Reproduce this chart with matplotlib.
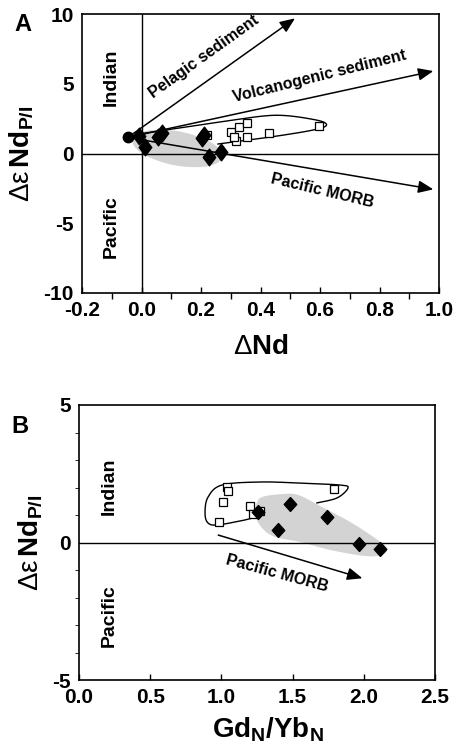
import numpy as np
import matplotlib
matplotlib.use("Agg")
import matplotlib.pyplot as plt
from matplotlib.path import Path

plt.rcParams['font.family'] = ['Liberation Sans', 'DejaVu Sans']
plt.rcParams['font.weight'] = 'normal'
plt.rcParams['mathtext.fontset'] = 'custom'
plt.rcParams['mathtext.rm'] = 'Liberation Sans'
plt.rcParams['mathtext.bf'] = 'Liberation Sans:bold'
plt.rcParams['mathtext.it'] = 'Liberation Sans:italic'

# ---------------- Panel A data ----------------
a_circle_x = [-0.046]
a_circle_y = [1.15]
a_diam_x = [-0.007, 0.012, 0.056, 0.068, 0.202, 0.210, 0.227, 0.266]
a_diam_y = [1.25, 0.49, 1.20, 1.45, 1.09, 1.33, -0.23, 0.09]
a_sq_x = [0.219, 0.300, 0.318, 0.329, 0.356, 0.356, 0.430, 0.598, 0.310]
a_sq_y = [1.33, 1.52, 0.92, 1.92, 2.16, 1.20, 1.49, 1.99, 1.20]
# arrow end points (start at the filled circle)
a_arrow_names = ['Pelagic sediment', 'Volcanogenic sediment', 'Pacific MORB']
a_arrow_end_x = [0.516, 0.981, 0.981]
a_arrow_end_y = [9.69, 5.91, -2.57]
# gray field of diamonds (outline vertices)
a_gray_x = [0.273, 0.221, 0.110, 0.006, -0.031, 0.021, 0.132, 0.236]
a_gray_y = [-0.26, -0.92, -0.84, -0.05, 0.97, 1.64, 1.56, 0.77]
# open envelope around squares
a_env_x = [-0.022, 0.129, 0.281, 0.449, 0.583, 0.622, 0.583, 0.449, 0.281, 0.257]
a_env_y = [1.36, 1.83, 2.31, 2.74, 2.42, 2.06, 1.71, 1.23, 0.75, 0.68]

# ---------------- Panel B data ----------------
b_sq_x = [1.037, 1.048, 1.009, 0.985, 1.200, 1.220, 1.270, 1.790]
b_sq_y = [2.03, 1.87, 1.48, 0.76, 1.33, 1.03, 1.16, 1.93]
b_diam_x = [1.259, 1.480, 1.395, 1.740, 1.966, 2.114]
b_diam_y = [1.12, 1.40, 0.45, 0.94, -0.05, -0.25]
b_arrow_start = (0.978, 0.27)
b_arrow_end = (1.99, -1.30)
b_gray_x = [1.243, 1.285, 1.426, 1.538, 1.692, 1.903, 2.079, 2.163, 2.128, 2.008,
            1.763, 1.552, 1.376, 1.285, 1.236]
b_gray_y = [1.36, 1.65, 1.76, 1.73, 1.33, 0.75, 0.16, -0.20, -0.45, -0.49,
            -0.27, 0.02, 0.20, 0.53, 1.00]
b_env_x = [1.257, 1.166, 0.976, 0.906, 0.885, 0.906, 1.004, 1.271, 1.552, 1.833,
           1.889, 1.812, 1.671]
b_env_y = [0.94, 0.82, 0.64, 0.71, 1.07, 1.65, 2.09, 2.20, 2.16, 2.09,
           1.98, 1.62, 1.44]

a_xticks = [-0.2, 0.0, 0.2, 0.4, 0.6, 0.8, 1.0]
a_yticks = [-10, -5, 0, 5, 10]
b_xticks = [0.0, 0.5, 1.0, 1.5, 2.0, 2.5]
b_yticks = [-5, 0, 5]

GRAY = '#d3d3d3'


def smooth(ax, xs, ys, closed, n=20):
    """Catmull-Rom spline computed in display space, returned in data space."""
    pts = ax.transData.transform(np.column_stack([xs, ys]))
    if closed:
        P = np.vstack([pts[-1], pts, pts[0], pts[1]])
        segs = len(pts)
    else:
        P = np.vstack([pts[0], pts, pts[-1]])
        segs = len(pts) - 1
    out = []
    t = np.linspace(0, 1, n, endpoint=False)[:, None]
    for i in range(segs):
        p0, p1, p2, p3 = P[i], P[i + 1], P[i + 2], P[i + 3]
        seg = 0.5 * ((2 * p1) + (-p0 + p2) * t + (2 * p0 - 5 * p1 + 4 * p2 - p3) * t ** 2
                     + (-p0 + 3 * p1 - 3 * p2 + p3) * t ** 3)
        out.append(seg)
    if not closed:
        out.append(pts[-1][None, :])
    out = np.vstack(out)
    return ax.transData.inverted().transform(out)


thin_diamond = Path([(0, 1), (0.75, 0), (0, -1), (-0.75, 0), (0, 1)],
                    [Path.MOVETO, Path.LINETO, Path.LINETO, Path.LINETO, Path.CLOSEPOLY])
diamond_b = Path([(0, 1), (0.9, 0), (0, -1), (-0.9, 0), (0, 1)],
                 [Path.MOVETO, Path.LINETO, Path.LINETO, Path.LINETO, Path.CLOSEPOLY])

fig = plt.figure(figsize=(4.55, 7.49), dpi=100)
axA = fig.add_axes([82 / 455, 1 - 293 / 749, 357 / 455, 279 / 749])
axB = fig.add_axes([79 / 455, 1 - 680 / 749, 356 / 455, 275 / 749])

arrowstyle = '-|>,head_length=0.65,head_width=0.27'
YLABEL = r'$\mathrm{\Delta\varepsilon}\,\mathbf{Nd}_{\mathbf{P/I}}$'
B = 'bold'

# ---------------- Panel A ----------------
axA.set_xlim(-0.2, 1.0)
axA.set_ylim(-10, 10)
axA.axhline(0, color='black', lw=1.0, zorder=1)
axA.axvline(0, color='black', lw=1.0, zorder=1)

g = smooth(axA, a_gray_x, a_gray_y, closed=True)
axA.fill(g[:, 0], g[:, 1], color=GRAY, lw=0, zorder=0.5)
e = smooth(axA, a_env_x, a_env_y, closed=False)
axA.plot(e[:, 0], e[:, 1], color='black', lw=1.0, zorder=2)

for ex, ey in zip(a_arrow_end_x, a_arrow_end_y):
    axA.annotate('', xy=(ex, ey), xytext=(a_circle_x[0], a_circle_y[0]),
                 arrowprops=dict(arrowstyle=arrowstyle, mutation_scale=14, lw=1.1,
                                 color='black', shrinkA=0, shrinkB=0), zorder=3)

axA.plot(a_sq_x, a_sq_y, ls='none', marker='s', ms=5.4, mfc='white', mec='black',
         mew=0.9, zorder=4)
axA.plot(a_diam_x, a_diam_y, ls='none', marker=thin_diamond, ms=12, color='black',
         zorder=5)
axA.plot(a_circle_x, a_circle_y, ls='none', marker='o', ms=7.5, color='black', zorder=6)

axA.text(0.210, 6.95, a_arrow_names[0], rotation=35.6, ha='center', va='center',
         fontsize=11.5, fontweight=B, rotation_mode='anchor')
axA.text(0.597, 5.55, a_arrow_names[1], rotation=13.9, ha='center', va='center',
         fontsize=11.5, fontweight=B, rotation_mode='anchor')
axA.text(0.608, -2.67, a_arrow_names[2], rotation=-13.4, ha='center', va='center',
         fontsize=11.5, fontweight=B, rotation_mode='anchor')
axA.text(-0.102, 5.45, 'Indian', rotation=90, ha='center', va='center', fontsize=14,
         fontweight=B)
axA.text(-0.102, -5.27, 'Pacific', rotation=90, ha='center', va='center', fontsize=14,
         fontweight=B)

axA.set_xticks(a_xticks)
axA.set_xticklabels([f'{v:.1f}' for v in a_xticks])
axA.set_xticks(np.arange(-0.1, 1.0, 0.2), minor=True)
axA.set_yticks(a_yticks)
axA.set_yticklabels([str(v) for v in a_yticks])
axA.tick_params(axis='both', direction='in', width=1.0, color='black')
axA.tick_params(axis='x', which='major', length=4, pad=6, labelsize=15)
axA.tick_params(axis='x', which='minor', length=4, width=1.0)
axA.tick_params(axis='y', which='major', length=0, pad=6, labelsize=15)
axA.set_xlabel(r'$\mathrm{\Delta}\mathbf{Nd}$', fontsize=20, labelpad=10)
axA.set_ylabel(YLABEL, fontsize=20, labelpad=6)
axA.text(-0.19, 1.005, 'A', transform=axA.transAxes, ha='left', va='top', fontsize=17,
         fontweight=B)

# ---------------- Panel B ----------------
axB.set_xlim(0, 2.5)
axB.set_ylim(-5, 5)
axB.axhline(0, color='black', lw=1.0, zorder=1)

g = smooth(axB, b_gray_x, b_gray_y, closed=True)
axB.fill(g[:, 0], g[:, 1], color=GRAY, lw=0, zorder=0.5)
e = smooth(axB, b_env_x, b_env_y, closed=False)
axB.plot(e[:, 0], e[:, 1], color='black', lw=1.0, zorder=2)

axB.annotate('', xy=b_arrow_end, xytext=b_arrow_start,
             arrowprops=dict(arrowstyle=arrowstyle, mutation_scale=14, lw=1.1,
                             color='black', shrinkA=0, shrinkB=0), zorder=3)
axB.plot(b_sq_x, b_sq_y, ls='none', marker='s', ms=5.4, mfc='white', mec='black',
         mew=0.9, zorder=4)
axB.plot(b_diam_x, b_diam_y, ls='none', marker=diamond_b, ms=10, color='black',
         zorder=5)

axB.text(1.394, -1.12, 'Pacific MORB', rotation=-15.2, ha='center', va='center',
         fontsize=11.5, fontweight=B, rotation_mode='anchor')
axB.text(0.214, 2.05, 'Indian', rotation=90, ha='center', va='center', fontsize=14,
         fontweight=B)
axB.text(0.214, -2.65, 'Pacific', rotation=90, ha='center', va='center', fontsize=14,
         fontweight=B)

axB.set_xticks(b_xticks)
axB.set_xticklabels([f'{v:.1f}' for v in b_xticks])
axB.set_yticks(b_yticks)
axB.set_yticklabels([str(v) for v in b_yticks])
axB.set_yticks(np.arange(-4, 5, 1), minor=True)
axB.tick_params(axis='both', direction='in', width=1.0, color='black')
axB.tick_params(axis='x', which='major', length=4, pad=6, labelsize=15)
axB.tick_params(axis='y', which='major', length=0, pad=6, labelsize=15)
axB.tick_params(axis='y', which='minor', length=3)
axB.set_xlabel(r'$\mathbf{Gd_N/Yb_N}$', fontsize=20, labelpad=8)
axB.xaxis.set_label_coords(0.53, -0.13)
axB.set_ylabel(YLABEL, fontsize=20, labelpad=6)
axB.text(-0.19, 0.965, 'B', transform=axB.transAxes, ha='left', va='top', fontsize=17,
         fontweight=B)

for ax in (axA, axB):
    for s in ax.spines.values():
        s.set_linewidth(1.2)
    for lab in ax.get_xticklabels() + ax.get_yticklabels():
        lab.set_fontweight('bold')

fig.savefig('out.png', dpi=100)
